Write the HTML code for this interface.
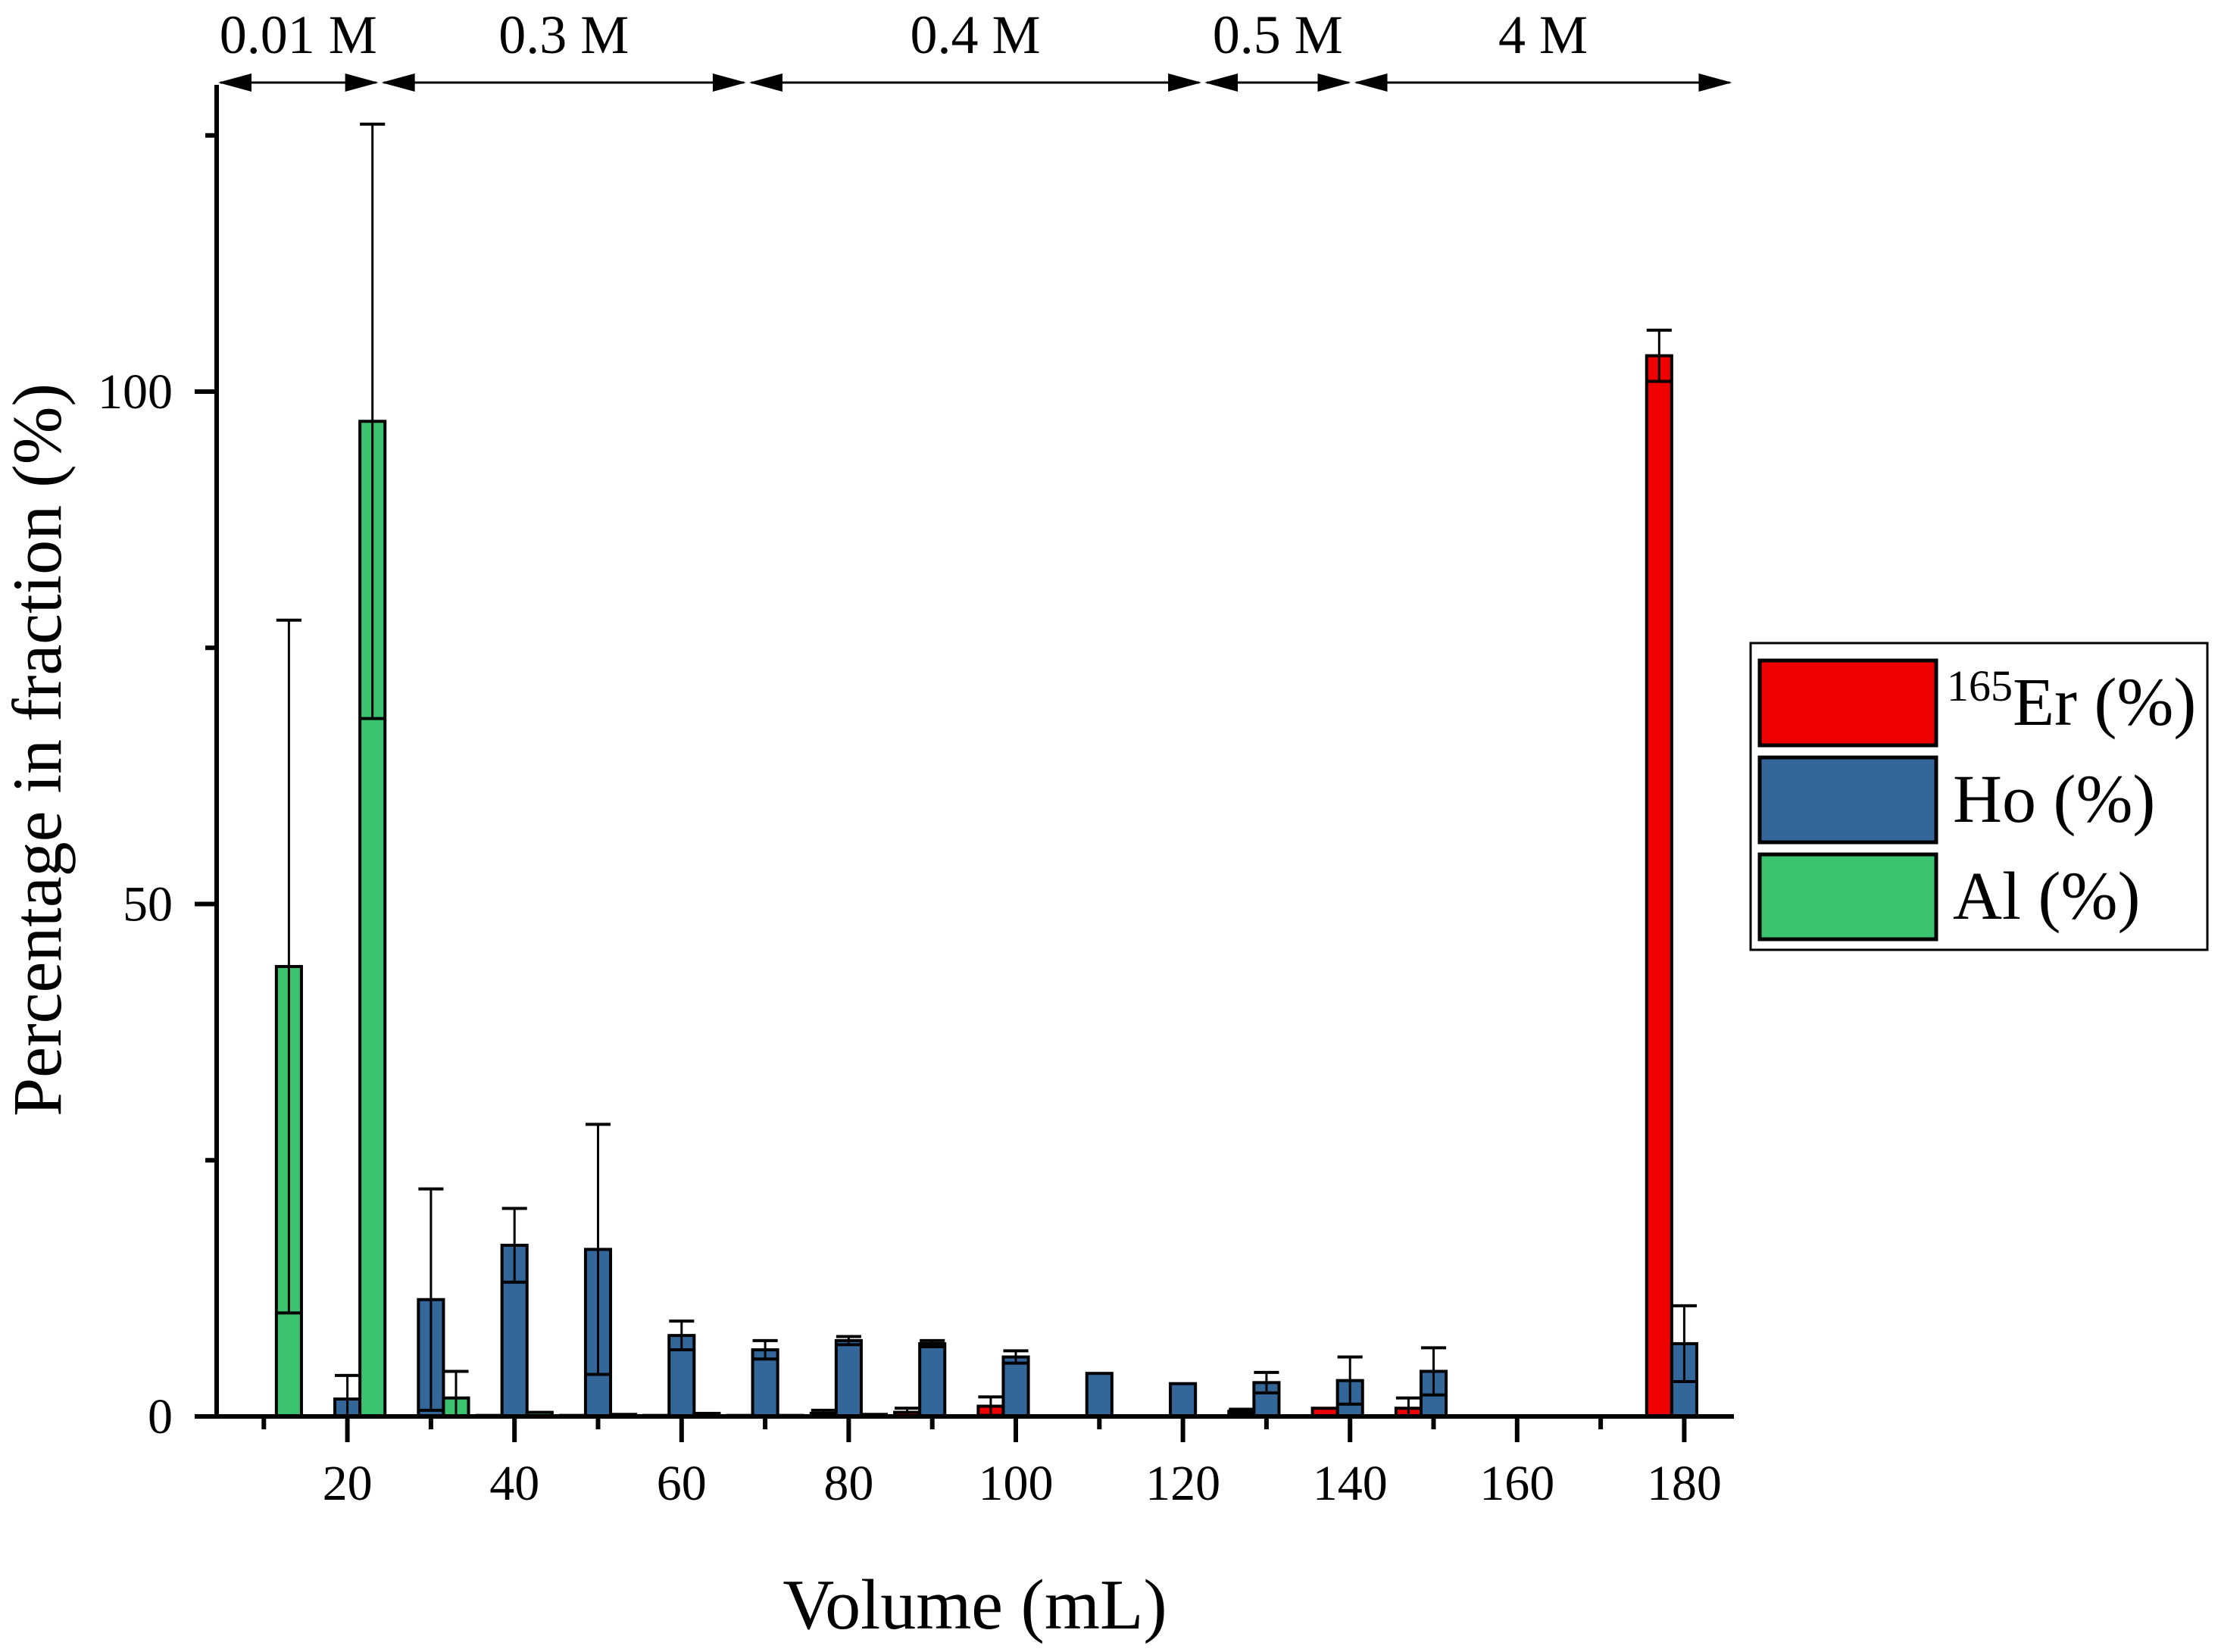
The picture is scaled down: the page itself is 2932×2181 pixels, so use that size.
<!DOCTYPE html>
<html><head><meta charset="utf-8"><style>
html,body{margin:0;padding:0;background:#fff;}
svg{display:block;font-family:"Liberation Serif",serif;}
</style></head><body>
<svg id="chart" width="2932" height="2181" viewBox="0 0 2932 2181">
<g id="plot"></g>
</svg>
<script>
const volumes = [10,20,30,40,50,60,70,80,90,100,110,120,130,140,150,180];
const erValues = [0,0,0,0.1,0.1,0.1,0.1,0.3,0.4,1.0,0,0,0.5,0.8,0.8,103.5];
const erErrors = [0,0,0,0,0,0,0,0.3,0.4,0.9,0,0,0.2,0,1.0,2.5];
const hoValues = [0,1.7,11.4,16.7,16.3,7.9,6.5,7.4,7.1,5.8,4.2,3.2,3.3,3.5,4.4,7.1];
const hoErrors = [0,2.3,10.8,3.6,12.2,1.4,0.9,0.4,0.3,0.6,0,0,1.0,2.3,2.3,3.7];
const alValues = [43.9,97.1,1.8,0.4,0.2,0.3,0.1,0.2,0,0,0,0,0,0,0,0];
const alErrors = [33.8,29,2.6,0,0,0,0,0,0,0,0,0,0,0,0,0];
const yTicks = [0,50,100];
const yMinor = [25,75,125];
const xTicks = [20,40,60,80,100,120,140,160,180];
const xMinor = [10,30,50,70,90,110,130,150,170];
const segments = [{from:0,to:23.9,label:"0.01 M"},{from:23.9,to:67.9,label:"0.3 M"},{from:67.9,to:122.4,label:"0.4 M"},{from:122.4,to:140.3,label:"0.5 M"},{from:140.3,to:185.9,label:"4 M"}];

const NS="http://www.w3.org/2000/svg";
const g=document.getElementById('plot');
const X0=286, XEND=2289, Y0=1870;
function xs(v){return 238+v*11.03;}
function ys(v){return Y0-v*13.53;}
function mk(tag,attrs,parent){const e=document.createElementNS(NS,tag);for(const k in attrs)e.setAttribute(k,attrs[k]);(parent||g).appendChild(e);return e;}

const BW=3*11.03;
const series=[{vals:erValues,errs:erErrors,off:-3,col:"#EE0000",n:"er"},{vals:hoValues,errs:hoErrors,off:0,col:"#336699",n:"ho"},{vals:alValues,errs:alErrors,off:3,col:"#3CC36F",n:"al"}];
series.forEach(s=>{
  volumes.forEach((v,i)=>{
    const val=s.vals[i]; if(val<=0) return;
    const cx=xs(v+s.off), top=ys(val);
    const r=mk('rect',{x:cx-BW/2,y:top,width:BW,height:Y0-top,fill:s.col,stroke:"#000","stroke-width":4});
    
    
    const e=s.errs[i];
    if(e>0){
      const eg=mk('g',{stroke:"#000"});
      
      
      const lo=Math.max(0,val-e);
      mk('line',{x1:cx,x2:cx,y1:ys(val+e),y2:ys(lo),"stroke-width":3},eg);
      mk('line',{x1:cx-BW/2,x2:cx+BW/2,y1:ys(val+e),y2:ys(val+e),"stroke-width":4},eg);
      mk('line',{x1:cx-BW/2,x2:cx+BW/2,y1:ys(lo),y2:ys(lo),"stroke-width":4},eg);
    }
  });
});

const ax=mk('g',{stroke:"#000"});


mk('line',{x1:X0,x2:X0,y1:112,y2:Y0+3,"stroke-width":6},ax);
mk('line',{x1:X0-3,x2:XEND,y1:Y0,y2:Y0,"stroke-width":6},ax);
yTicks.forEach(t=>{
  mk('line',{x1:X0-29,x2:X0,y1:ys(t),y2:ys(t),"stroke-width":6},ax);
  const tx=mk('text',{x:228,y:ys(t)+22,"font-size":66,"text-anchor":"end",fill:"#000",stroke:"none"});
  tx.textContent=t;
  
  
});
yMinor.forEach(t=>mk('line',{x1:X0-15,x2:X0,y1:ys(t),y2:ys(t),"stroke-width":6},ax));
xTicks.forEach(t=>{
  mk('line',{x1:xs(t),x2:xs(t),y1:Y0,y2:Y0+34,"stroke-width":6},ax);
  const tx=mk('text',{x:xs(t),y:1980,"font-size":66,"text-anchor":"middle",fill:"#000",stroke:"none"});
  tx.textContent=t;
  
  
});
xMinor.forEach(t=>mk('line',{x1:xs(t),x2:xs(t),y1:Y0,y2:Y0+17,"stroke-width":6},ax));

segments.forEach((s,i)=>{
  const a=(i==0?X0:xs(s.from)), b=xs(s.to), y=109;
  const sg=mk('g',{});
  
  
  mk('line',{x1:a+5,x2:b-5,y1:y,y2:y,stroke:"#000","stroke-width":3},sg);
  mk('polygon',{points:`${a+2},${y} ${a+46},${y-12} ${a+46},${y+12}`,fill:"#000"},sg);
  mk('polygon',{points:`${b-2},${y} ${b-46},${y-12} ${b-46},${y+12}`,fill:"#000"},sg);
  const t=mk('text',{x:(a+b)/2,y:70,"font-size":72,"text-anchor":"middle",fill:"#000"},sg);
  t.textContent=s.label;
});
</script>
<svg style="position:absolute;left:0;top:0" width="2932" height="2181">
<text x="1287" y="2150" font-size="94" text-anchor="middle" font-family="Liberation Serif, serif">Volume (mL)</text>
<text transform="translate(80,990) rotate(-90)" font-size="92" text-anchor="middle" font-family="Liberation Serif, serif">Percentage in fraction (%)</text>
<g font-family="Liberation Serif, serif">
<rect x="2311" y="849" width="603" height="405" fill="#fff" stroke="#000" stroke-width="3"/>
<rect x="2323" y="872" width="233" height="112" fill="#EE0000" stroke="#000" stroke-width="5"/>
<rect x="2323" y="1000" width="233" height="112" fill="#336699" stroke="#000" stroke-width="5"/>
<rect x="2323" y="1128" width="233" height="112" fill="#3CC36F" stroke="#000" stroke-width="5"/>
<text x="2570" y="957" font-size="90"><tspan font-size="58" dy="-32">165</tspan><tspan dy="32">Er (%)</tspan></text>
<text x="2578" y="1085" font-size="90">Ho (%)</text>
<text x="2578" y="1213" font-size="90">Al (%)</text>
</g>
</svg>
</body></html>
